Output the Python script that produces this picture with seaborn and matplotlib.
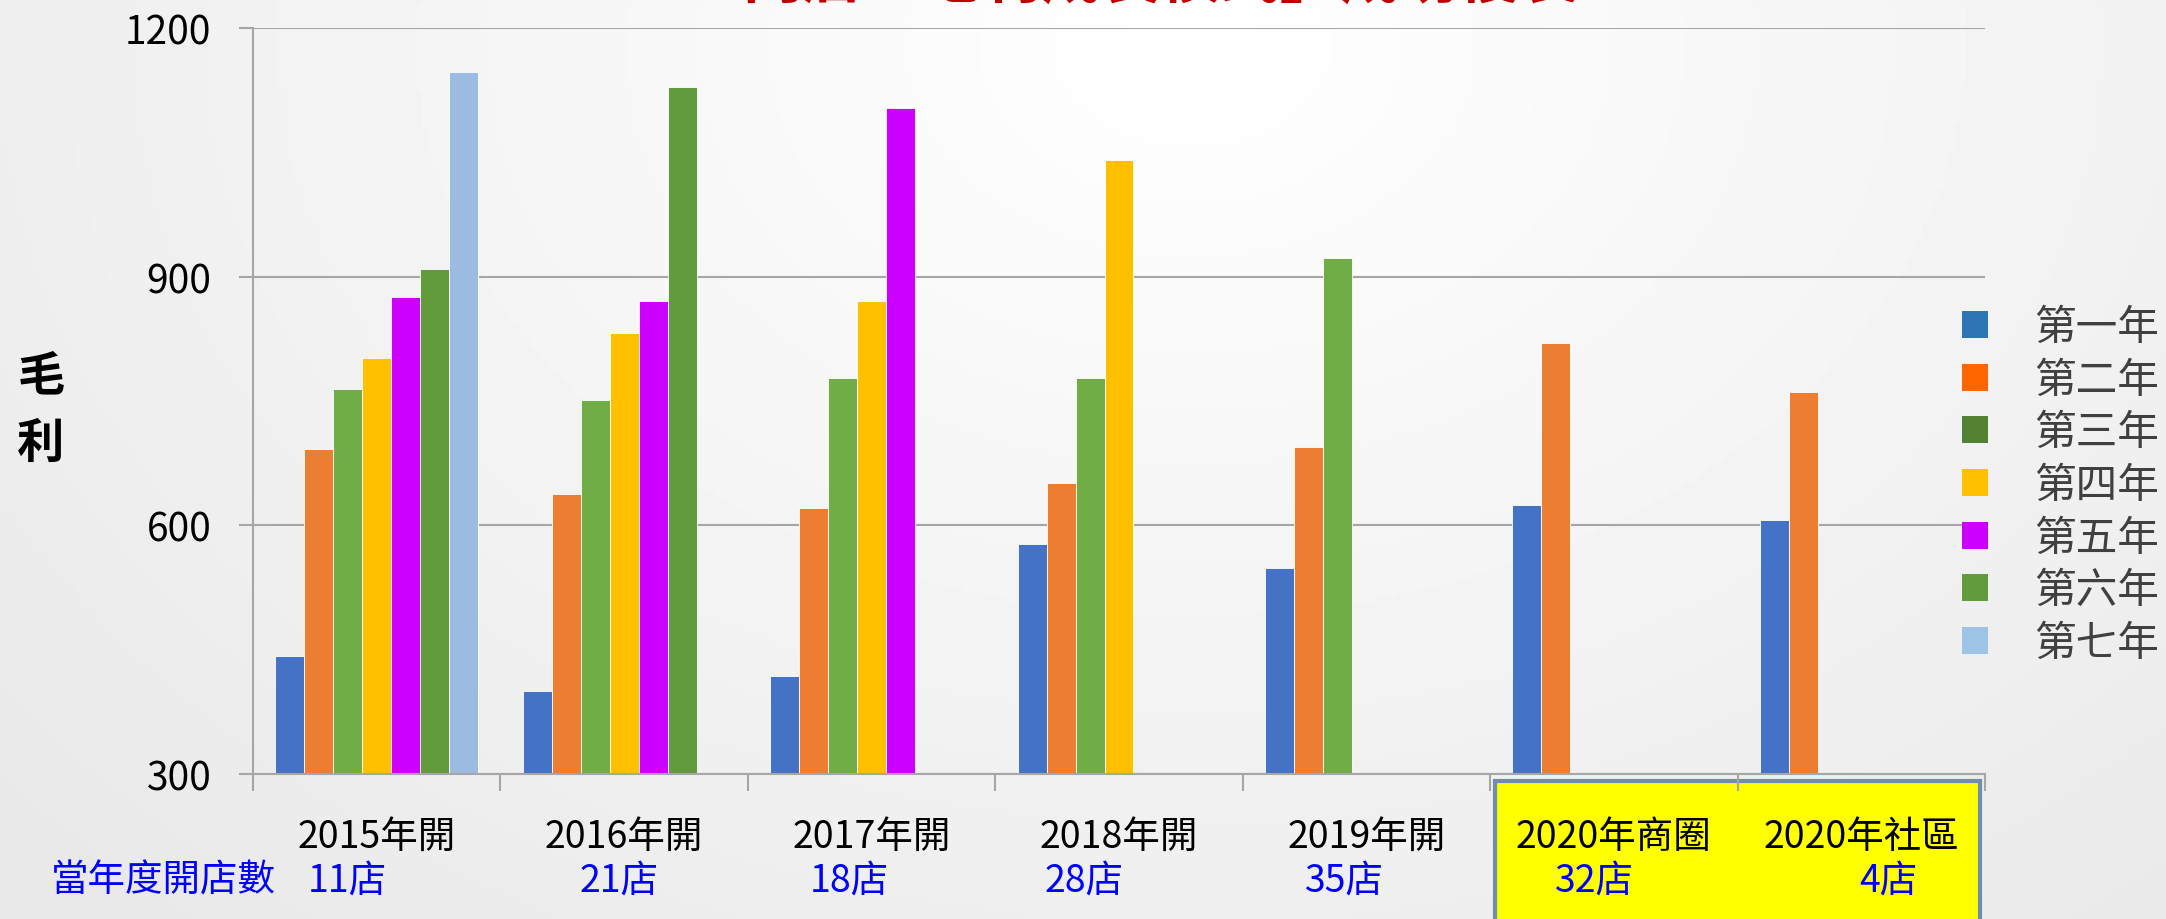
import numpy as np
import pandas as pd
import matplotlib
matplotlib.use('Agg')
import matplotlib.pyplot as plt
from matplotlib.patches import Patch, Rectangle
import seaborn as sns

# 資料
categories = ['2015年開', '2016年開', '2017年開', '2018年開', '2019年開', '2020年商圈', '2020年社區']
series = ['第一年', '第二年', '第三年', '第四年', '第五年', '第六年', '第七年']
y1 = [442, 400, 418, 578, 549, 624, 606]
y2 = [692, 638, 621, 651, 695, 820, 761]
y3 = [764, 751, 778, 778, 922, 0, np.nan]
y4 = [802, 832, 871, 1041, 0, 0, np.nan]
y5 = [875, 871, 1104, 0, 0, 0, np.nan]
y6 = [909, 1129, 0, 0, 0, 0, np.nan]
y7 = [1147, 0, 0, 0, 0, 0, np.nan]
store_counts = ['11店', '21店', '18店', '28店', '35店', '32店', '4店']
yticks = [300, 600, 900, 1200]

bar_colors = ['#4472C4', '#ED7D31', '#70AD47', '#FFC000', '#CC00FF', '#629A3E', '#9BBBE0']
legend_colors = ['#2E75B6', '#FF6600', '#548235', '#FFC000', '#CC00FF', '#639A3E', '#9DC3E6']
count_offsets = [-0.12, -0.02, -0.09, -0.14, -0.09, -0.08, 0.11]  # 版面微調

rows = []
for s, vals in zip(series, [y1, y2, y3, y4, y5, y6, y7]):
    for c, v in zip(categories, vals):
        rows.append({'cat': c, 'series': s, 'value': v})
df = pd.DataFrame(rows).dropna()

sns.set_theme(style='white')
plt.rcParams['font.family'] = ['Noto Sans CJK TC', 'DejaVu Sans']

fig = plt.figure(figsize=(21.66, 9.2), dpi=100)

# 背景漸層
bg = fig.add_axes([0, 0, 1, 1], zorder=-2)
gx, gy = np.meshgrid(np.linspace(0, 1, 400), np.linspace(0, 1, 200))
r = np.sqrt(((gx - 0.55) / 0.75) ** 2 + ((gy - 0.05) / 1.3) ** 2)
bg.imshow(np.clip(1 - 0.09 * r, 0.9, 1), cmap='gray', vmin=0, vmax=1, aspect='auto', extent=[0, 1, 0, 1])
bg.axis('off')

ax = fig.add_axes([253 / 2166, 1 - 775 / 920, (1985 - 253) / 2166, (775 - 29) / 920])
ax.set_facecolor('none')
sns.barplot(data=df, x='cat', y='value', hue='series', order=categories, hue_order=series,
            palette=bar_colors, saturation=1, width=0.82, edgecolor='white', linewidth=0.6,
            legend=False, ax=ax)

ax.set_ylim(300, 1200)
ax.set_xlim(-0.5, len(categories) - 0.5)
ax.set_yticks(yticks)
ax.yaxis.grid(True, color='#A6A6A6', linewidth=1.5)
ax.set_axisbelow(True)
for side in ['top', 'right']:
    ax.spines[side].set_visible(False)
for side in ['left', 'bottom']:
    ax.spines[side].set_color('#A6A6A6')
    ax.spines[side].set_linewidth(1.5)
ax.tick_params(axis='y', length=10, width=1.5, color='#A6A6A6', pad=20, labelsize=28, labelcolor='black', left=True)
ax.set_xticks(range(len(categories)))
ax.set_xticklabels(categories)
ax.tick_params(axis='x', which='major', length=0, pad=31, labelsize=27, labelcolor='black')
ax.set_xticks(np.arange(-0.5, len(categories)), minor=True)
ax.tick_params(axis='x', which='minor', length=12, width=1.5, color='#A6A6A6', bottom=True)
ax.set_xlabel('')
ax.set_ylabel('')

# 當年度開店數
trans = ax.get_xaxis_transform()
for i, (txt, off) in enumerate(zip(store_counts, count_offsets)):
    ax.text(i + off, -0.142, txt, transform=trans, ha='center', va='center',
            fontsize=27, color='#0000FF', clip_on=False)
fig.text(51 / 2166, 1 - 881 / 920, '當年度開店數', ha='left', va='center', fontsize=27, color='#0000FF')

# 2020 黃色框
fig.add_artist(Rectangle((1495 / 2166, -0.05), (1980 - 1495) / 2166, 0.05 + 1 - 782 / 920,
                         transform=fig.transFigure, facecolor='#FFFF00', edgecolor='#6F8DB0',
                         linewidth=3, zorder=-1))

# 標題與軸標
fig.text(0.536, 1 - 11 / 920, '門店「毛利成長模式」成功複製', ha='center', va='bottom',
         fontsize=43, fontweight='bold', color='#C00000')
fig.text(41 / 2166, 1 - 410 / 920, '毛\n利', ha='center', va='center', fontsize=34,
         fontweight='bold', color='black', linespacing=1.5)

handles = [Patch(facecolor=c, edgecolor='none') for c in legend_colors]
fig.legend(handles, series, loc='upper left', bbox_to_anchor=(1962 / 2166, 1 - 308 / 920),
           frameon=False, fontsize=30, labelcolor='#404040', handlelength=0.62, handleheight=0.62,
           handletextpad=1.1, labelspacing=0.28, borderpad=0, borderaxespad=0)

fig.savefig('out.png', dpi=100)
